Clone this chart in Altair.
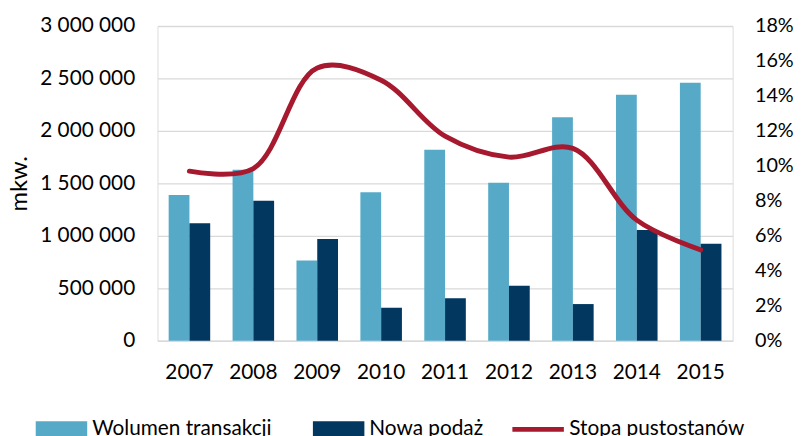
import altair as alt
import pandas as pd

years = ["2007", "2008", "2009", "2010", "2011", "2012", "2013", "2014", "2015"]
wolumen = [1390000, 1630000, 765000, 1415000, 1820000, 1505000, 2130000, 2345000, 2460000]
podaz = [1120000, 1335000, 970000, 315000, 405000, 525000, 350000, 1055000, 925000]
stopa = [0.097, 0.0985, 0.156, 0.149, 0.117, 0.105, 0.110, 0.069, 0.052]

series_names = ["Wolumen transakcji", "Nowa podaż"]
line_name = "Stopa pustostanów"
left_ticks = [0, 500000, 1000000, 1500000, 2000000, 2500000, 3000000]
right_ticks = [0, 0.02, 0.04, 0.06, 0.08, 0.10, 0.12, 0.14, 0.16, 0.18]

bars_df = pd.DataFrame(
    [{"year": y, "series": series_names[0], "value": v} for y, v in zip(years, wolumen)]
    + [{"year": y, "series": series_names[1], "value": v} for y, v in zip(years, podaz)]
)
line_df = pd.DataFrame({"year": years, "stopa": stopa, "name": [line_name] * len(years)})

FONT = "Lato"
GRID = "#d9d9d9"

x_enc = alt.X(
    "year:N",
    sort=years,
    scale=alt.Scale(paddingInner=0.35, paddingOuter=0.175),
    axis=alt.Axis(
        title=None, labelAngle=0, ticks=False, domainColor=GRID, domainWidth=1.5,
        labelPadding=21, labelFontSize=21, labelColor="#000000", labelFont=FONT,
    ),
)

bars = alt.Chart(bars_df).mark_bar().encode(
    x=x_enc,
    xOffset=alt.XOffset("series:N", sort=series_names,
                        scale=alt.Scale(domain=series_names, paddingInner=0, paddingOuter=0)),
    y=alt.Y(
        "value:Q",
        scale=alt.Scale(domain=[0, 3000000]),
        axis=alt.Axis(
            values=left_ticks,
            labelExpr="replace(format(datum.value, ','), regexp(',', 'g'), ' ')",
            title="mkw.", titleFont=FONT, titleFontSize=24, titleFontWeight="normal",
            titleColor="#000000", titleX=-151, titleY=159, titleAngle=270,
            titleBaseline="top", titleAlign="center",
            domain=False, ticks=False, labelPadding=23, labelFontSize=21,
            labelColor="#000000", labelFont=FONT,
            grid=True, gridColor=GRID, gridWidth=1.3,
        ),
    ),
    fill=alt.Fill(
        "series:N", sort=series_names,
        scale=alt.Scale(domain=series_names, range=["#56AAC7", "#02375F"]),
        legend=alt.Legend(
            title=None, orient="none", legendX=-123, legendY=381, direction="horizontal",
            symbolType="M-1,-0.3H1V0.3H-1Z", symbolSize=2704, symbolStrokeWidth=0,
            labelFontSize=21, labelFont=FONT, labelColor="#000000", labelOffset=5,
            labelLimit=500, columnPadding=41, padding=0,
        ),
    ),
)

line = alt.Chart(line_df).mark_line(strokeWidth=5, interpolate="catmull-rom", strokeCap="round").encode(
    x=alt.X("year:N", sort=years),
    y=alt.Y(
        "stopa:Q",
        scale=alt.Scale(domain=[0, 0.18]),
        axis=alt.Axis(
            orient="right", values=right_ticks, format=".0%", title=None,
            domain=False, ticks=False, grid=False, labelPadding=22,
            labelFontSize=20, labelColor="#000000", labelFont=FONT,
        ),
    ),
    stroke=alt.Stroke(
        "name:N",
        scale=alt.Scale(domain=[line_name], range=["#A6192E"]),
        legend=alt.Legend(
            title=None, orient="none", legendX=356, legendY=379, direction="horizontal",
            symbolType="stroke", symbolSize=2704, symbolStrokeWidth=5,
            labelFontSize=21, labelFont=FONT, labelColor="#000000", labelOffset=3,
            labelLimit=500, padding=0,
        ),
    ),
)

chart = (
    alt.layer(bars, line)
    .resolve_scale(y="independent", fill="independent", stroke="independent")
    .properties(
        width=581, height=318, autosize="none",
        padding={"left": 151, "top": 16, "right": 64, "bottom": 94},
    )
    .configure_view(stroke=None)
    .configure(font=FONT)
)

chart.save("out.html", embed_options={"renderer": "svg", "actions": False})
